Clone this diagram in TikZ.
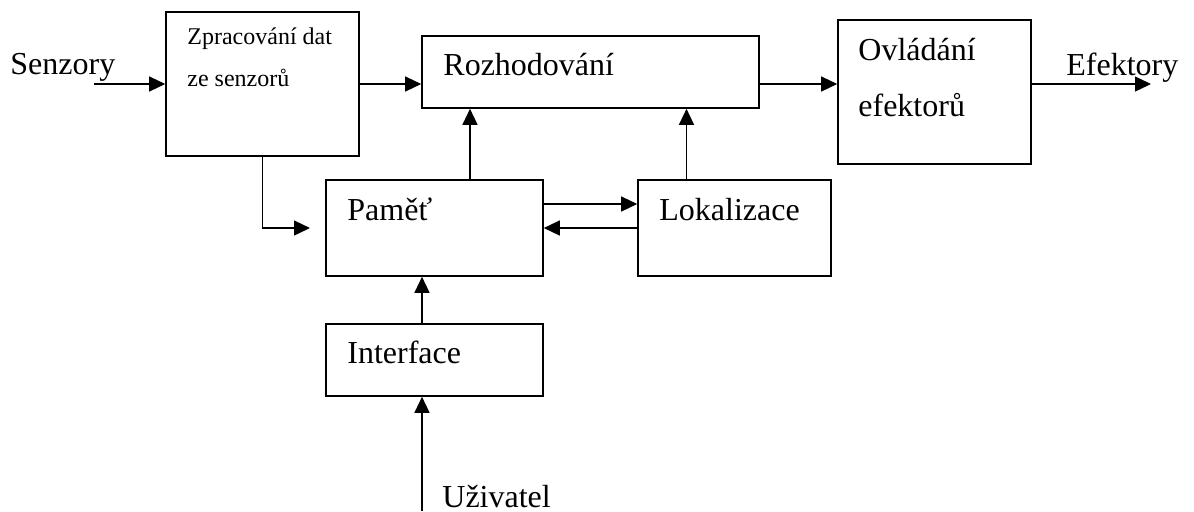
\documentclass[tikz,border=0pt]{standalone}
\usepackage{fontspec}
\setmainfont{Liberation Serif}
\usetikzlibrary{arrows.meta}
\begin{document}
\begin{tikzpicture}[x=0.5pt,y=-0.5pt,
  blk/.style={draw=black,line width=0.8pt,rectangle,inner sep=0pt,fill=white},
  lbl/.style={anchor=base west,inner sep=0pt,font=\fontsize{16}{19}\selectfont},
  slbl/.style={anchor=base west,inner sep=0pt,font=\fontsize{12}{14}\selectfont},
  arr/.style={line width=0.65pt,-{Triangle[length=8pt,width=7.5pt]}},
  ln/.style={line width=0.65pt}]
\useasboundingbox[fill=white] (0,0) rectangle (1194,511);
% boxes
\node[blk,minimum width=96.5pt,minimum height=72pt] (zpr) at (262.5,84) {};
\node[blk,minimum width=168.5pt,minimum height=36pt] (rozh) at (590.5,72) {};
\node[blk,minimum width=96.5pt,minimum height=72pt] (ovl) at (934.5,92) {};
\node[blk,minimum width=108.5pt,minimum height=48pt] (pam) at (434.5,228) {};
\node[blk,minimum width=96.5pt,minimum height=48pt] (lok) at (734.5,228) {};
\node[blk,minimum width=108.5pt,minimum height=36pt] (int) at (434.5,360) {};
% labels
\node[lbl] (tsen) at (10,74) {Senzory};
\node[slbl] (tzpr1) at (187,44) {Zpracování dat};
\node[slbl] (tzpr2) at (187,86) {ze senzorů};
\node[lbl] (troz) at (443,75.5) {Rozhodování};
\node[lbl] (tovl1) at (858,60.5) {Ovládání};
\node[lbl] (tovl2) at (858,116) {efektorů};
\node[lbl] (tefe) at (1066,75) {Efektory};
\node[lbl] (tpam) at (347,220) {Paměť};
\node[lbl] (tlok) at (659,220.5) {Lokalizace};
\node[lbl] (tint) at (347,363) {Interface};
\node[lbl] (tuzi) at (442,507) {Uživatel};
% free ends
\coordinate (senin) at (94,84);
\coordinate (efout) at (1151,84);
\coordinate (pamin) at (310,228);
\coordinate (uzin) at (422,511);
\coordinate (pamup) at (470,180);
\coordinate (lokup) at (686.5,180);
% connectors
\draw[arr] (senin) -- (zpr.west);
\draw[arr] (zpr.east) -- (rozh.west |- zpr.east);
\draw[arr] (rozh.east |- zpr.east) -- (ovl.west |- zpr.east);
\draw[arr] (ovl.east |- zpr.east) -- (efout);
\draw[arr] (zpr.south) |- (pamin);
\draw[arr] (pamup) -- (pamup |- rozh.south);
\draw[arr] (lokup) -- (lokup |- rozh.south);
\draw[arr] ([yshift=12pt]pam.east) -- ([yshift=12pt]lok.west);
\draw[arr] (lok.west) -- (pam.east);
\draw[arr] (uzin |- int.north) -- (uzin |- pam.south);
\draw[arr] (uzin) -- (uzin |- int.south);
\end{tikzpicture}
\end{document}
